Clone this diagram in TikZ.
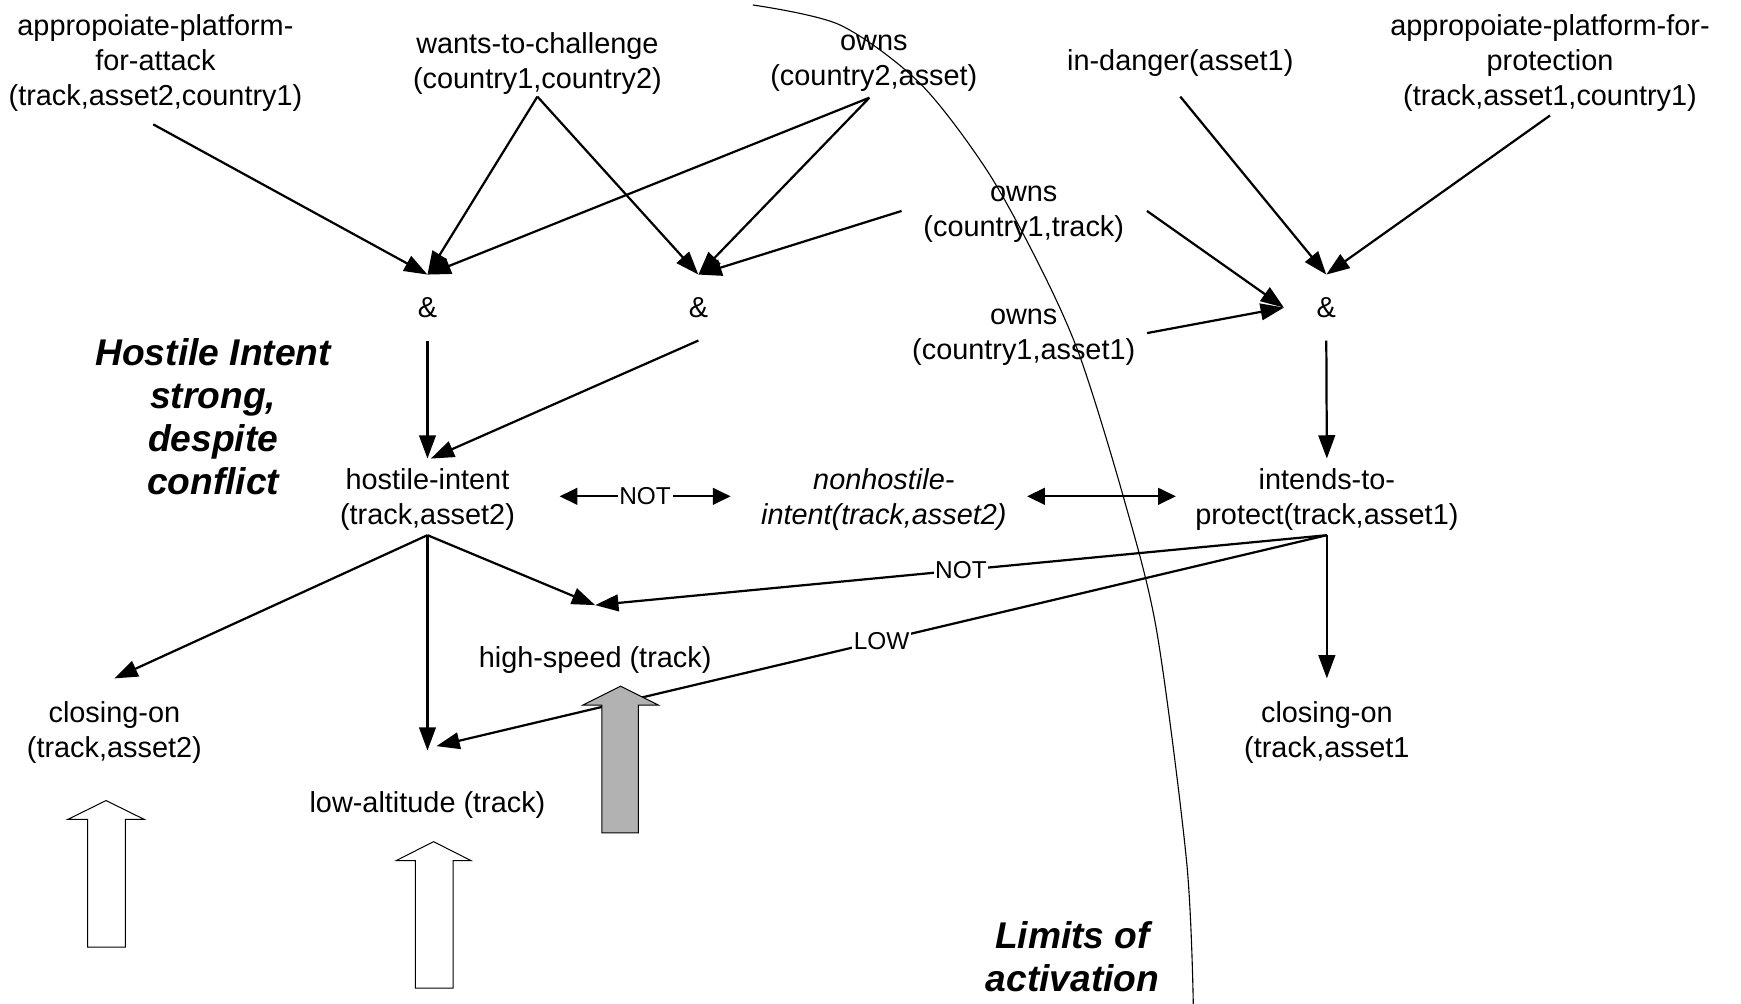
\documentclass[tikz,border=0pt]{standalone}
\usepackage{fontspec}
\setmainfont{Liberation Sans}
\usetikzlibrary{arrows.meta,calc}
\definecolor{blockgray}{RGB}{178,178,178}
\begin{document}
\begin{tikzpicture}[x=1pt,y=-1pt,
  txt/.style={align=center, font=\fontsize{26}{31.5}\selectfont, inner sep=0pt},
  itxt/.style={align=center, font=\fontsize{26}{31.5}\selectfont\itshape, inner sep=0pt},
  lbl/.style={font=\fontsize{22}{26}\selectfont, fill=white, inner sep=1.5pt},
  big/.style={align=center, font=\fontsize{33.5}{38.7}\selectfont\bfseries\itshape, inner sep=0pt},
  andn/.style={font=\fontsize{26}{31.5}\selectfont, minimum width=76pt, minimum height=59pt, inner sep=0pt},
  arr/.style={line width=2pt, -{Triangle[length=21pt,width=15pt]}},
  darr/.style={line width=2pt, {Triangle[length=16pt,width=15pt]}-{Triangle[length=16pt,width=15pt]}},
  blockarrow/.style={draw=black, line width=0.9pt, line join=miter},
  limitline/.style={line width=1pt},
]
\useasboundingbox (0,0) rectangle (1568,904);

% nodes
\node[txt] (app1) at (140,57) {appropoiate-platform-\\for-attack\\(track,asset2,country1)};
\node[txt] (wants) at (484,57) {wants-to-challenge\\(country1,country2)};
\node[txt] (owns2) at (787,57) {owns\\(country2,asset)};
\node[txt] (danger) at (1063,57) {in-danger(asset1)};
\node[txt] (app2) at (1396,57) {appropoiate-platform-for-\\protection\\(track,asset1,country1)};
\node[txt] (ownsT) at (922,193) {owns\\(country1,track)};
\node[txt] (ownsA) at (922,304) {owns\\(country1,asset1)};
\node[andn] (and1) at (385,277) {\&};
\node[andn] (and2) at (629,277) {\&};
\node[andn] (and3) at (1194.5,277) {\&};
\node[big] (hostlbl) at (192,375) {Hostile Intent\\strong,\\despite\\conflict};
\node[txt] (hostile) at (385,450) {hostile-intent\\(track,asset2)};
\node[itxt] (nonhostile) at (796,450) {nonhostile-\\intent(track,asset2)};
\node[txt] (intends) at (1195,450) {intends-to-\\protect(track,asset1)};
\node[txt] (speed) at (536,594) {high-speed (track)};
\node[txt] (close2) at (103,660) {closing-on\\(track,asset2)};
\node[txt] (lowalt) at (385,725) {low-altitude (track)};
\node[txt] (close1) at (1195,660) {closing-on\\(track,asset1};
\node[big] (limits) at (966,862) {Limits of\\activation};

% connectors into the & nodes
\draw[arr] ($(app1)+(-2,55)$) -- (and1.north);
\draw[arr] ($(wants)+(0,30)$) -- (and1.north);
\draw[arr] ($(wants)+(0,30)$) -- (and2.north);
\draw[arr] ($(owns2)+(-4,31)$) -- (and1.north);
\draw[arr] ($(owns2)+(-4,31)$) -- (and2.north);
\draw[arr] ($(ownsT)+(-110,-3)$) -- (and2.north);
\draw[arr] ($(ownsT)+(111,-3)$) -- (and3.west);
\draw[arr] ($(ownsA)+(111,-4)$) -- (and3.west);
\draw[arr] ($(danger)+(0,30)$) -- (and3.north);
\draw[arr] ($(app2)+(0,47)$) -- (and3.north);

% & nodes to conclusions
\draw[arr] (and1.south) -- ($(hostile)+(0,-37)$);
\draw[arr] (and2.south) -- ($(hostile)+(3,-37)$);
\draw[arr] (and3.south) -- ($(intends)+(0,-37)$);

% mutual links
\draw[darr] ($(hostile)+(119,-3)$) -- node[lbl] {NOT} ($(nonhostile)+(-138,-3)$);
\draw[darr] ($(nonhostile)+(129,-3)$) -- ($(intends)+(-136,-3)$);

% consequences
\draw[arr] ($(hostile)+(0,32)$) -- ($(close2)+(0,-49)$);
\draw[arr] ($(hostile)+(0,32)$) -- ($(lowalt)+(0,-49)$);
\draw[arr] ($(hostile)+(0,32)$) -- ($(speed)+(0,-49)$);
\draw[arr] ($(intends)+(0,32)$) -- node[lbl] {NOT} ($(speed)+(0,-49)$);
\draw[arr] ($(intends)+(0,32)$) -- node[lbl] {LOW} ($(lowalt)+(8,-53)$);
\draw[arr] ($(intends)+(0,32)$) -- ($(close1)+(0,-49)$);

% block arrows (evidence)
\draw[blockarrow, fill=blockgray] (559,618) -- (593,635) -- (575,635) -- (575,750) -- (542,750) -- (542,635) -- (525,635) -- cycle;
\draw[blockarrow, fill=white] (95.5,721) -- (130,738) -- (113,738) -- (113,853) -- (79,853) -- (79,738) -- (61,738) -- cycle;
\draw[blockarrow, fill=white] (390.5,758) -- (424,775) -- (408,775) -- (408,890) -- (374,890) -- (374,775) -- (357,775) -- cycle;

% limits of activation curve
\draw[limitline] plot[smooth] coordinates {(678,4.5) (756.5,22.5) (828.5,75) (888.6,153) (936.6,240) (972.6,321) (1011.6,447) (1041.7,568) (1068.7,776) (1074.7,904)};
\end{tikzpicture}
\end{document}
